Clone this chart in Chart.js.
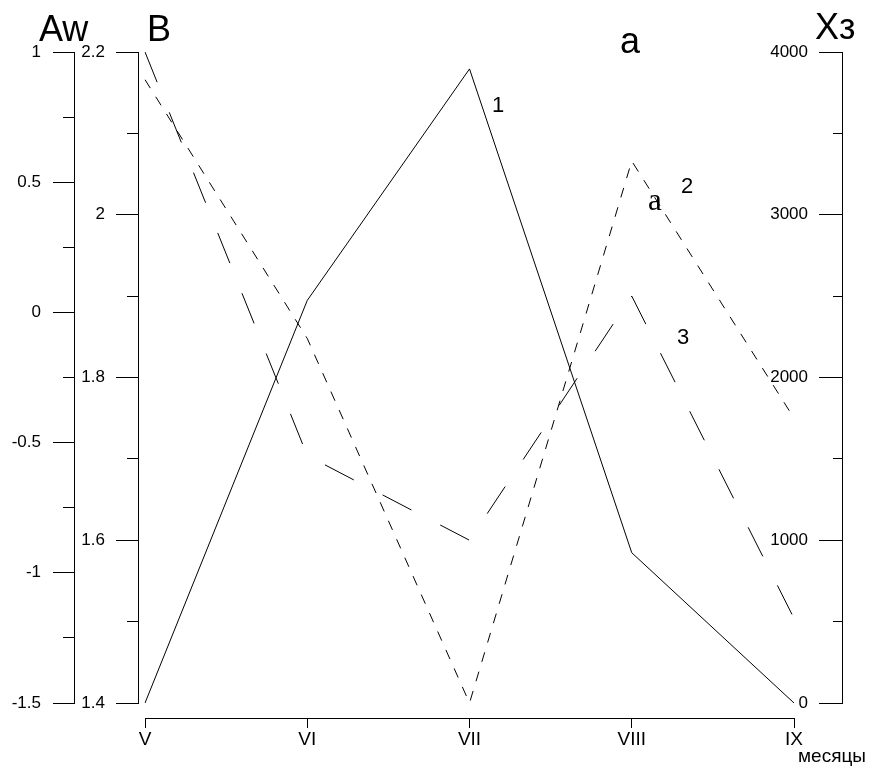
<!DOCTYPE html>
<html>
<head>
<meta charset="utf-8">
<script src="https://cdn.jsdelivr.net/npm/chart.js@4.4.1/dist/chart.umd.min.js"></script>
<style>
  html, body { margin: 0; padding: 0; background: #fff; }
  #wrap { width: 869px; height: 780px; position: relative; }
</style>
</head>
<body>
<div id="wrap"><canvas id="chart"></canvas></div>
<script>
// months on the x axis
const months = ["V", "VI", "VII", "VIII", "IX"];

// curve 1 (solid) on the Aw axis
const awSeries = [-1.5, 0.046, 0.935, -0.923, -1.5];
// curve 2 (short dashes) on the B axis
const bSeries = [2.166, 1.848, 1.4, 2.066, 1.75];
// curve 3 (long dashes) on the Xз axis
const xzSeries = [4000, 1520, 1000, 2500, 520];

const FONT = "'Liberation Sans', Arial, sans-serif";
const tickFont = { family: FONT, size: 17 };

// label only every second tick, the rest are short minor ticks
const everyOther = (step) => (val) => {
  const n = Math.round(val / step);
  if (n % 2 !== 0) return "";
  return String(Math.round(val * 100) / 100);
};
const isMinor = (ctx, step) => Math.round(ctx.tick.value / step) % 2 !== 0;

const spacer = (position, size) => ({
  type: "linear",
  position,
  weight: 1,
  ticks: { display: false },
  grid: { display: false },
  border: { display: false },
  afterFit: (s) => {
    if (position === "left" || position === "right") s.width = size;
    else s.height = size;
  },
});

const annotations = {
  id: "annotations",
  afterDraw(chart) {
    const { ctx } = chart;
    ctx.save();
    ctx.fillStyle = "#000";
    ctx.textBaseline = "alphabetic";
    ctx.font = `36px ${FONT}`;
    ctx.textAlign = "left";
    ctx.fillText("Aw", 39, 41);
    ctx.fillText("B", 147, 41);
    ctx.fillText("Xз", 815, 39);
    ctx.textAlign = "center";
    ctx.fillText("a", 630, 53);
    ctx.font = `22px ${FONT}`;
    ctx.fillText("1", 498, 112);
    ctx.fillText("2", 687, 193);
    ctx.fillText("3", 683, 344);
    ctx.font = "31px 'Liberation Serif', 'Times New Roman', serif";
    ctx.fillText("a", 655, 210);
    ctx.font = `19px ${FONT}`;
    ctx.fillText("месяцы", 832, 762);
    ctx.restore();
  },
};

const ctx = document.getElementById("chart").getContext("2d");
new Chart(ctx, {
  type: "line",
  data: {
    labels: months,
    datasets: [
      {
        label: "1",
        data: awSeries,
        xAxisID: "x",
        yAxisID: "aw",
        borderColor: "#000",
        borderWidth: 1,
        pointRadius: 0,
        tension: 0,
      },
      {
        label: "2",
        data: bSeries,
        xAxisID: "x",
        yAxisID: "b",
        borderColor: "#000",
        borderWidth: 1,
        borderDash: [10, 10.2],
        pointRadius: 0,
        tension: 0,
      },
      {
        label: "3",
        data: xzSeries,
        xAxisID: "x",
        yAxisID: "xz",
        borderColor: "#000",
        borderWidth: 1,
        borderDash: [32.5, 32.5],
        pointRadius: 0,
        tension: 0,
      },
    ],
  },
  options: {
    responsive: true,
    maintainAspectRatio: false,
    animation: false,
    events: [],
    layout: { padding: { top: 52, bottom: 0, left: 0, right: 0 } },
    plugins: {
      legend: { display: false },
      tooltip: { enabled: false },
    },
    scales: {
      x: {
        type: "category",
        position: "bottom",
        weight: 2,
        grid: {
          drawOnChartArea: false,
          tickLength: 10,
          tickColor: "#000",
        },
        border: { color: "#000", width: 1 },
        ticks: {
          color: "#000",
          font: { family: FONT, size: 19 },
          padding: 0,
          maxRotation: 0,
          autoSkip: false,
        },
        afterFit: (s) => { s.height = 62; },
      },
      padB: spacer("bottom", 15),
      aw: {
        type: "linear",
        position: "left",
        weight: 3,
        min: -1.5,
        max: 1,
        ticks: {
          stepSize: 0.25,
          autoSkip: false,
          color: "#000",
          font: tickFont,
          padding: 12,
          callback: everyOther(0.25),
        },
        grid: {
          drawOnChartArea: false,
          tickLength: 21,
          tickColor: "#000",
          tickBorderDash: (c) => (isMinor(c, 0.25) ? [0, 10, 20] : []),
        },
        border: { color: "#000", width: 1 },
        afterFit: (s) => { s.width = 74; },
      },
      b: {
        type: "linear",
        position: "left",
        weight: 2,
        min: 1.4,
        max: 2.2,
        ticks: {
          stepSize: 0.1,
          autoSkip: false,
          color: "#000",
          font: tickFont,
          padding: 11,
          callback: (val) => {
            const n = Math.round(val * 10);
            return n % 2 !== 0 ? "" : String(n / 10);
          },
        },
        grid: {
          drawOnChartArea: false,
          tickLength: 22,
          tickColor: "#000",
          tickBorderDash: (c) => (Math.round(c.tick.value * 10) % 2 !== 0 ? [0, 11, 20] : []),
        },
        border: { color: "#000", width: 1 },
        afterFit: (s) => { s.width = 64; },
      },
      padL: spacer("left", 7),
      padR: spacer("right", 48),
      xz: {
        type: "linear",
        position: "right",
        weight: 2,
        min: 0,
        max: 4000,
        ticks: {
          stepSize: 500,
          autoSkip: false,
          mirror: true,
          padding: -34,
          color: "#000",
          font: tickFont,
          callback: everyOther(500),
        },
        grid: {
          drawOnChartArea: false,
          tickLength: -23,
          tickColor: "#000",
          tickBorderDash: (c) => (isMinor(c, 500) ? [10, 100] : []),
        },
        border: { color: "#000", width: 1 },
        afterFit: (s) => { s.width = 27; },
      },
    },
  },
  plugins: [annotations],
});
</script>
</body>
</html>
